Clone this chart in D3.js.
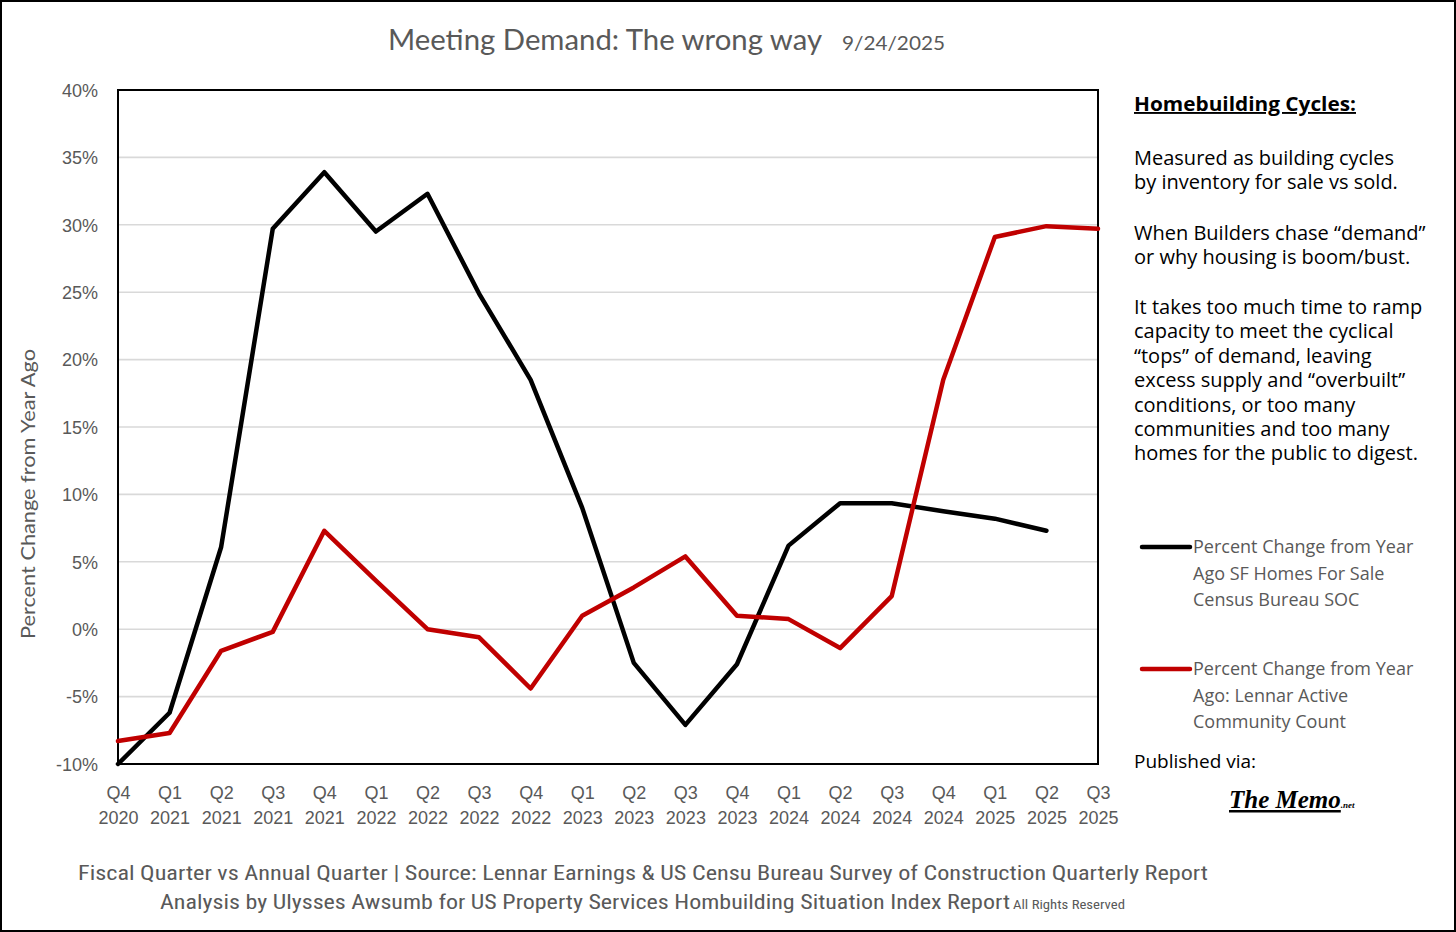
<!DOCTYPE html>
<html><head><meta charset="utf-8">
<script src="https://cdn.jsdelivr.net/npm/d3@7/dist/d3.min.js"></script>
<style>body{margin:0;background:#fff}svg{display:block}</style>
</head><body>
<svg id="c" width="1456" height="932"></svg>
<script>
const categories = ["Q4 2020","Q1 2021","Q2 2021","Q3 2021","Q4 2021","Q1 2022","Q2 2022","Q3 2022","Q4 2022","Q1 2023","Q2 2023","Q3 2023","Q4 2023","Q1 2024","Q2 2024","Q3 2024","Q4 2024","Q1 2025","Q2 2025","Q3 2025"];
const homesForSale = [-10.0,-6.2,6.1,29.7,33.9,29.5,32.3,24.9,18.5,9.0,-2.5,-7.1,-2.6,6.2,9.35,9.35,8.75,8.2,7.3,null];
const lennarCommunities = [-8.3,-7.7,-1.6,-0.2,7.3,3.6,0.0,-0.6,-4.4,1.0,3.1,5.4,1.0,0.75,-1.4,2.45,18.5,29.1,29.9,29.7];
const yTicks = [-10,-5,0,5,10,15,20,25,30,35,40];
const seriesNames = ["Percent Change from Year Ago SF Homes For Sale Census Bureau SOC","Percent Change from Year Ago: Lennar Active Community Count"];

const svg = d3.select("#c");
const L=118,R=1098,T=90,B=764;
const x = d3.scalePoint().domain(categories).range([L,R]).padding(0);
const y = d3.scaleLinear().domain([-10,40]).range([B,T]);

// outer border
svg.append("rect").attr("x",1).attr("y",1).attr("width",1454).attr("height",930).attr("fill","#fff").attr("stroke","#000").attr("stroke-width",2);

// gridlines
svg.append("g").selectAll("line").data(yTicks.filter(d=>d>-10&&d<40)).join("line")
 .attr("x1",L).attr("x2",R).attr("y1",d=>y(d)).attr("y2",d=>y(d))
 .attr("stroke","#d9d9d9").attr("stroke-width",1.6);

// y axis labels
const yAxis = d3.axisLeft(y).tickValues(yTicks).tickFormat(d=>d+"%").tickSize(0).tickPadding(0);
const ga = svg.append("g").attr("transform",`translate(98,0)`).call(yAxis);
ga.select(".domain").remove();
ga.selectAll("text").attr("font-family","Liberation Sans, Arial, sans-serif").attr("font-size",18).attr("fill","#595959").attr("dy","0.35em");

// x axis labels
const xAxis = d3.axisBottom(x).tickSize(0).tickFormat("");
const gx = svg.append("g").attr("transform",`translate(0,${B})`).call(xAxis);
gx.select(".domain").remove();
gx.selectAll(".tick").each(function(d){
  const parts=d.split(" ");
  const t=d3.select(this).append("text").attr("text-anchor","middle")
   .attr("font-family","Liberation Sans, Arial, sans-serif").attr("font-size",18).attr("fill","#595959");
  t.append("tspan").attr("x",0).attr("y",35).text(parts[0]);
  t.append("tspan").attr("x",0).attr("y",60).text(parts[1]);
});

// plot border
svg.append("rect").attr("x",L).attr("y",T).attr("width",R-L).attr("height",B-T).attr("fill","none").attr("stroke","#000").attr("stroke-width",2);

// lines
const line = d3.line().defined(d=>d.v!=null).x(d=>x(d.c)).y(d=>y(d.v));
const mk = arr => categories.map((c,i)=>({c,v:arr[i]}));
svg.append("path").datum(mk(homesForSale)).attr("d",line).attr("fill","none").attr("stroke","#000").attr("stroke-width",4.5).attr("stroke-linejoin","round").attr("stroke-linecap","round");
svg.append("path").datum(mk(lennarCommunities)).attr("d",line).attr("fill","none").attr("stroke","#c00000").attr("stroke-width",4.5).attr("stroke-linejoin","round").attr("stroke-linecap","round");

// title
const title = svg.append("text").attr("y",50).attr("font-family","Lato, 'Open Sans', sans-serif").attr("fill","#595959");
title.append("tspan").attr("x",388).attr("font-size",28).attr("textLength",434).attr("lengthAdjust","spacingAndGlyphs").text("Meeting Demand: The wrong way");
title.append("tspan").attr("x",842).attr("font-size",20).attr("textLength",103).attr("lengthAdjust","spacingAndGlyphs").text("9/24/2025");

// y title
svg.append("text").attr("transform","translate(35,494) rotate(-90)").attr("text-anchor","middle")
 .attr("font-family","Lato, 'Open Sans', sans-serif").attr("font-size",20).attr("fill","#595959")
 .attr("textLength",290).attr("lengthAdjust","spacingAndGlyphs").text("Percent Change from Year Ago");

// right panel
const rp = svg.append("g").attr("font-family","'Open Sans', Lato, sans-serif").attr("fill","#000");
rp.append("text").attr("x",1134).attr("y",111).attr("font-size",19).attr("font-weight","bold").attr("text-decoration","underline")
 .attr("textLength",222).attr("lengthAdjust","spacingAndGlyphs").text("Homebuilding Cycles:");
const paras = [
 {y:165, lines:["Measured as building cycles","by inventory for sale vs sold."]},
 {y:240, lines:["When Builders chase \u201cdemand\u201d","or why housing is boom/bust."]},
 {y:314, lines:["It takes too much time to ramp","capacity to meet the cyclical","\u201ctops\u201d of demand, leaving","excess supply and \u201coverbuilt\u201d","conditions, or too many","communities and too many","homes for the public to digest."]}
];
paras.forEach(p=>p.lines.forEach((l,i)=>{
  rp.append("text").attr("x",1134).attr("y",p.y+i*24.4).attr("font-size",20).text(l);
}));

// legend
const legendLines = [["Percent Change from Year","Ago SF Homes For Sale","Census Bureau SOC"],["Percent Change from Year","Ago: Lennar Active","Community Count"]];
const legendColors = ["#000","#c00000"];
[547,669].forEach((ly,k)=>{
  svg.append("line").attr("x1",1142).attr("x2",1190).attr("y1",ly).attr("y2",ly).attr("stroke",legendColors[k]).attr("stroke-width",4.5).attr("stroke-linecap","round");
  legendLines[k].forEach((l,i)=>{
    svg.append("text").attr("x",1193).attr("y",ly+6+i*26.5).attr("font-family","'Open Sans', Lato, sans-serif").attr("font-size",18).attr("fill","#595959").text(l);
  });
});
rp.append("text").attr("x",1134).attr("y",768).attr("font-size",19).text("Published via:");
const memo = svg.append("text").attr("x",1229).attr("y",808).attr("font-family","'Liberation Serif', 'DejaVu Serif', serif").attr("font-style","italic").attr("font-weight","bold").attr("fill","#000");
memo.append("tspan").attr("font-size",25).attr("text-decoration","underline").text("The Memo");
memo.append("tspan").attr("font-size",9).text(".net");

// footer
const ft = svg.append("g").attr("font-family","'Liberation Sans Narrow', 'Roboto Condensed', Roboto, sans-serif").attr("fill","#595959");
ft.append("text").attr("x",78).attr("y",880).attr("font-size",21).attr("textLength",1130).attr("lengthAdjust","spacingAndGlyphs")
 .text("Fiscal Quarter vs Annual Quarter |  Source: Lennar Earnings & US Censu Bureau Survey of Construction Quarterly Report");
ft.append("text").attr("x",160).attr("y",909).attr("font-size",21).attr("textLength",850).attr("lengthAdjust","spacingAndGlyphs")
 .text("Analysis by Ulysses Awsumb for US Property Services Hombuilding Situation Index Report");
ft.append("text").attr("x",1013).attr("y",909).attr("font-size",13).attr("textLength",112).attr("lengthAdjust","spacingAndGlyphs")
 .text("All Rights Reserved");
</script>
</body></html>
